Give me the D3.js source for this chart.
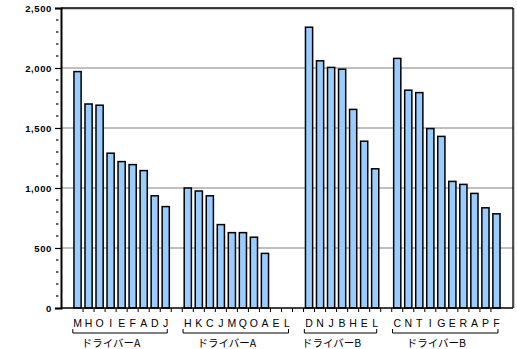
<!DOCTYPE html>
<html>
<head>
<meta charset="utf-8">
<script src="https://cdn.jsdelivr.net/npm/d3@7/dist/d3.min.js"></script>
<style>
  html, body { margin: 0; padding: 0; background: #fff; }
  svg { display: block; }
</style>
</head>
<body>
<svg id="chart" width="517" height="349"></svg>
<script>
// Category slots ("" = blank spacer slot)
const categories = ["", "M","H","O","I","E","F","A","D","J",
                    "", "H","K","C","J","M","Q","O","A","E","L",
                    "", "D","N","J","B","H","E","L",
                    "", "C","N","T","I","G","E","R","A","P","F", ""];
const values = [null, 1970,1700,1690,1290,1220,1195,1145,935,845,
                null, 1000,975,935,695,628,628,590,455,0,0,
                null, 2340,2060,2005,1990,1655,1390,1160,
                null, 2080,1815,1795,1495,1430,1055,1030,955,835,785, null];
const groupLabels = ["ドライバーA", "ドライバーA", "ドライバーB", "ドライバーB"];
const groupStart = [1, 11, 22, 30];
const groupEnd = [9, 20, 28, 39];
const yTicks = [0, 500, 1000, 1500, 2000, 2500];

(function () {
const svg = d3.select("#chart");
const pLeft = 61, pRight = 513, pTop = 8, pBottom = 308;

const x = d3.scaleBand()
  .domain(d3.range(categories.length))
  .range([pLeft, pRight])
  .paddingInner(0.35)
  .paddingOuter(0.175);
const step = x.step();
const y = d3.scaleLinear().domain([0, 2500]).range([pBottom, pTop]);

// gridlines
svg.append("g").selectAll("line")
  .data(yTicks.filter(d => d > 0 && d < 2500))
  .join("line")
  .attr("x1", pLeft).attr("x2", pRight)
  .attr("y1", d => y(d)).attr("y2", d => y(d))
  .attr("stroke", "#808080").attr("stroke-width", 1.2);

// frame top/right with shadow
svg.append("line").attr("x1", pLeft).attr("x2", pRight + 1).attr("y1", pTop + 1).attr("y2", pTop + 1)
  .attr("stroke", "#999").attr("stroke-width", 1);
svg.append("line").attr("x1", pRight + 1).attr("x2", pRight + 1).attr("y1", pTop).attr("y2", pBottom)
  .attr("stroke", "#999").attr("stroke-width", 1);
svg.append("line").attr("x1", pLeft).attr("x2", pRight).attr("y1", pTop).attr("y2", pTop)
  .attr("stroke", "#000").attr("stroke-width", 1.3);
svg.append("line").attr("x1", pRight).attr("x2", pRight).attr("y1", pTop).attr("y2", pBottom)
  .attr("stroke", "#000").attr("stroke-width", 1.3);

// bars
const barData = categories.map((c, i) => ({ i, c, v: values[i] })).filter(d => d.v);
svg.append("g").selectAll("rect")
  .data(barData)
  .join("rect")
  .attr("x", d => x(d.i))
  .attr("width", x.bandwidth())
  .attr("y", d => y(d.v))
  .attr("height", d => y(0) - y(d.v))
  .attr("fill", "#99CCFF")
  .attr("stroke", "#000")
  .attr("stroke-width", 1.5);

// y axis
const yAxis = d3.axisLeft(y).tickValues(yTicks).tickSize(6).tickPadding(3)
  .tickFormat(d3.format(","));
const yg = svg.append("g").attr("transform", `translate(${pLeft},0)`).call(yAxis);
yg.select(".domain").attr("stroke", "#000").attr("stroke-width", 2);
yg.selectAll(".tick line").attr("stroke", "#000").attr("stroke-width", 1.2);
yg.selectAll("text")
  .attr("font-family", "Liberation Sans, Arial, sans-serif")
  .attr("font-size", 9.5).attr("font-weight", "bold")
  .attr("letter-spacing", "0.6px").attr("fill", "#000");
// minor ticks
svg.append("g").selectAll("line")
  .data(d3.range(100, 2500, 100).filter(d => d % 500 !== 0))
  .join("line")
  .attr("x1", pLeft - 5).attr("x2", pLeft - 2.5)
  .attr("y1", d => y(d)).attr("y2", d => y(d))
  .attr("stroke", "#000").attr("stroke-width", 1.2);

// x axis line
svg.append("line").attr("x1", pLeft).attr("x2", pRight).attr("y1", pBottom).attr("y2", pBottom)
  .attr("stroke", "#000").attr("stroke-width", 1.5);
// x tick marks at slot boundaries
svg.append("g").selectAll("line")
  .data(d3.range(2, 40))
  .join("line")
  .attr("x1", k => pLeft + k * step).attr("x2", k => pLeft + k * step)
  .attr("y1", pBottom).attr("y2", pBottom + 4)
  .attr("stroke", "#000").attr("stroke-width", 1);

// category labels
svg.append("g").selectAll("text")
  .data(categories.map((c, i) => ({ c, i })).filter(d => d.c))
  .join("text")
  .attr("x", d => x(d.i) + x.bandwidth() / 2)
  .attr("y", 327)
  .attr("text-anchor", "middle")
  .attr("font-family", "Liberation Sans, Arial, sans-serif")
  .attr("font-size", 10.5)
  .attr("fill", "#000")
  .text(d => d.c);

// group brackets and labels
groupLabels.forEach((lab, g) => {
  const x0 = x(groupStart[g]) - (step - x.bandwidth()) / 2 + 0.8;
  const x1 = x(groupEnd[g]) + x.bandwidth() + (step - x.bandwidth()) / 2 - 4;
  svg.append("path")
    .attr("d", `M${x0},329V333H${x1}V329`)
    .attr("fill", "none").attr("stroke", "#000").attr("stroke-width", 1);
  svg.append("text")
    .attr("x", (x0 + x1) / 2 - 9)
    .attr("y", 347)
    .attr("text-anchor", "middle")
    .attr("font-family", "Noto Sans CJK JP, sans-serif")
    .attr("font-size", 10.5)
    .attr("fill", "#000")
    .text(lab);
});
})();
</script>
</body>
</html>
